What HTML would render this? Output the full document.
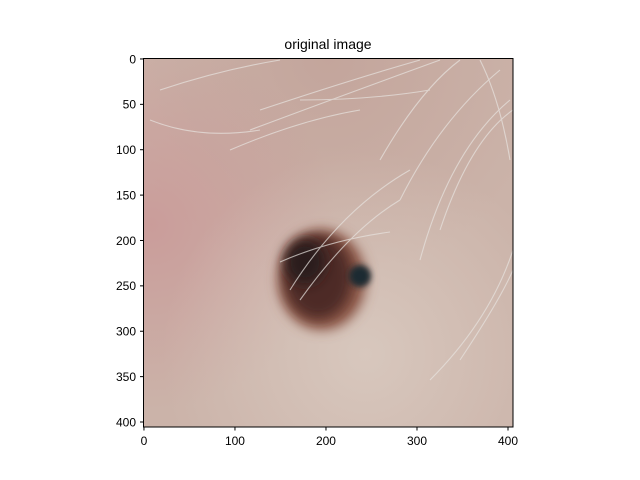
<!DOCTYPE html>
<html><head><meta charset="utf-8"><style>
body{margin:0;background:#fff;}
svg{display:block;font-family:"Liberation Sans",sans-serif;}
</style></head><body>
<svg width="640" height="480" xmlns="http://www.w3.org/2000/svg">
<defs>
<radialGradient id="pink" cx="0.02" cy="0.45" r="0.5"><stop offset="0" stop-color="#c98a8e" stop-opacity="0.55"/><stop offset="1" stop-color="#c98a8e" stop-opacity="0"/></radialGradient>
<radialGradient id="top" cx="0.5" cy="0" r="0.6"><stop offset="0" stop-color="#b89088" stop-opacity="0.4"/><stop offset="1" stop-color="#b89088" stop-opacity="0"/></radialGradient>
<radialGradient id="light" cx="0.6" cy="0.8" r="0.55"><stop offset="0" stop-color="#ddd0c6" stop-opacity="0.7"/><stop offset="1" stop-color="#ddd0c6" stop-opacity="0"/></radialGradient>
<filter id="blur" x="-50%" y="-50%" width="200%" height="200%"><feGaussianBlur stdDeviation="6"/></filter>
<filter id="blur2" x="-50%" y="-50%" width="200%" height="200%"><feGaussianBlur stdDeviation="3"/></filter>
<clipPath id="clip"><rect x="143.5" y="58.5" width="369.5" height="368.5"/></clipPath>
</defs>
<text x="328" y="49" text-anchor="middle" font-size="14">original image</text>
<g clip-path="url(#clip)">
<rect x="143.5" y="58.5" width="370" height="370" fill="#cbb3a9"/>
<rect x="143.5" y="58.5" width="370" height="370" fill="url(#top)"/>
<rect x="143.5" y="58.5" width="370" height="370" fill="url(#pink)"/>
<rect x="143.5" y="58.5" width="370" height="370" fill="url(#light)"/>
<g>
<ellipse cx="322" cy="280" rx="44" ry="50" fill="#8a5444" filter="url(#blur)"/>
<ellipse cx="318" cy="277" rx="34" ry="42" fill="#4e2c26" filter="url(#blur)"/>
<ellipse cx="305" cy="262" rx="20" ry="22" fill="#2c1c1c" filter="url(#blur)"/>
<ellipse cx="360" cy="276" rx="11" ry="11" fill="#1f2a30" filter="url(#blur2)"/>
</g>
<g stroke="#e8e4e0" stroke-width="1.1" fill="none" opacity="0.7">
<path d="M280 262 Q330 240 390 232"/><path d="M290 290 Q340 210 410 170"/>
<path d="M300 300 Q350 230 400 200"/><path d="M260 110 Q350 80 420 60"/>
<path d="M250 130 Q330 100 440 60"/><path d="M400 200 Q440 120 500 70"/>
<path d="M420 260 Q450 150 510 100"/><path d="M440 230 Q470 140 513 110"/>
<path d="M150 120 Q200 140 260 130"/><path d="M160 90 Q220 70 280 60"/>
<path d="M430 380 Q490 320 513 250"/><path d="M460 360 Q500 300 513 270"/>
<path d="M380 160 Q420 90 460 60"/><path d="M480 60 Q500 100 510 160"/>
<path d="M300 100 Q370 100 430 90"/><path d="M230 150 Q300 120 360 110"/>
</g>
</g>
<rect x="143.5" y="58.5" width="369.5" height="368.5" fill="none" stroke="#000" stroke-width="1"/>
<g id="xt"></g>
<g id="yt"></g>
</svg>
<script>
const xTicks=[0,100,200,300,400];
const yTicks=[0,50,100,150,200,250,300,350,400];
const ns="http://www.w3.org/2000/svg";
const sx=v=>143.5+(v+0.5)*369.5/406;
const sy=v=>58.5+(v+0.5)*368.5/406;
const xg=document.getElementById('xt'),yg=document.getElementById('yt');
xTicks.forEach(v=>{
 const l=document.createElementNS(ns,'line');
 
 
 l.setAttribute('x1',sx(v));l.setAttribute('x2',sx(v));l.setAttribute('y1',427);l.setAttribute('y2',430.5);l.setAttribute('stroke','#000');
 xg.appendChild(l);
 const t=document.createElementNS(ns,'text');
 
 
 t.setAttribute('x',sx(v));t.setAttribute('y',445);t.setAttribute('text-anchor','middle');t.setAttribute('font-size','12');
 t.textContent=v;xg.appendChild(t);
});
yTicks.forEach(v=>{
 const l=document.createElementNS(ns,'line');
 
 
 l.setAttribute('x1',140);l.setAttribute('x2',143.5);l.setAttribute('y1',sy(v));l.setAttribute('y2',sy(v));l.setAttribute('stroke','#000');
 yg.appendChild(l);
 const t=document.createElementNS(ns,'text');
 
 
 t.setAttribute('x',136);t.setAttribute('y',sy(v)+4.3);t.setAttribute('text-anchor','end');t.setAttribute('font-size','12');
 t.textContent=v;yg.appendChild(t);
});
</script>
</body></html>
